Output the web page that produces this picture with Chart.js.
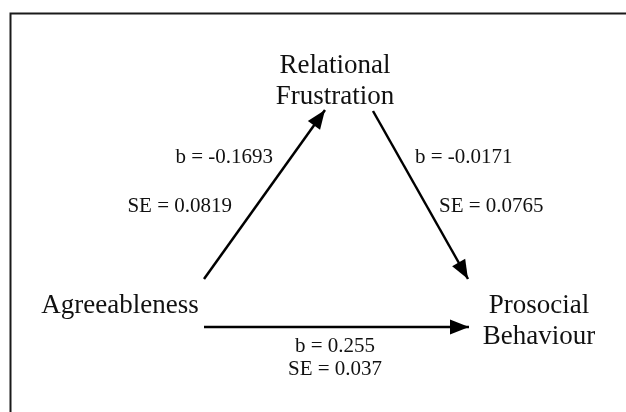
<!DOCTYPE html>
<html>
<head>
<meta charset="utf-8">
<script src="https://cdn.jsdelivr.net/npm/chart.js@4"></script>
<style>
  body { margin: 0; background: #fff; }
  #wrap { width: 626px; height: 412px; }
</style>
</head>
<body>
<div id="wrap"><canvas id="Chart" width="626" height="412"></canvas></div>
<script>
// nodes of the path model (centre x, first baseline y in diagram units)
let nodeLines = [['Relational', 'Frustration'], ['Agreeableness'], ['Prosocial', 'Behaviour']];
let nodeX = [335, 120, 539];
let nodeY = [73, 313, 313];

// paths: a -> frustration, frustration -> prosocial, a -> prosocial
let pathB = ['-0.1693', '-0.0171', '0.255'];
let pathSE = ['0.0819', '0.0765', '0.037'];
let arrowFromX = [204, 373, 204];
let arrowFromY = [279, 111, 327];
let arrowToX = [325, 468, 469];
let arrowToY = [110, 279, 327];

let datasets = [];
for (let i in pathB) {
    datasets.push({
        label: 'b = ' + pathB[i],
        data: [{ x: arrowFromX[i], y: arrowFromY[i] }, { x: arrowToX[i], y: arrowToY[i] }],
        showLine: true,
        borderColor: '#000000',
        borderWidth: 2.5,
        pointRadius: 0,
        borderCapStyle: 'butt'
    });
}

const serif = '"Liberation Serif", "Times New Roman", serif';

let diagramPlugin = {
    id: 'diagram',
    beforeDraw(chart) {
        let ctx = chart.ctx;
        ctx.save();
        ctx.fillStyle = '#ffffff';
        ctx.fillRect(0, 0, chart.width, chart.height);
        // frame
        ctx.strokeStyle = '#1a1a1a';
        ctx.lineWidth = 2;
        ctx.strokeRect(10.5, 13.5, 800, 600);
        ctx.restore();
    },
    afterDatasetsDraw(chart) {
        let ctx = chart.ctx;
        let xs = chart.scales.x, ys = chart.scales.y;
        ctx.save();
        // arrow heads
        ctx.fillStyle = '#000000';
        for (let i in pathB) {
            let x1 = xs.getPixelForValue(arrowFromX[i]), y1 = ys.getPixelForValue(arrowFromY[i]);
            let x2 = xs.getPixelForValue(arrowToX[i]), y2 = ys.getPixelForValue(arrowToY[i]);
            let a = Math.atan2(y2 - y1, x2 - x1);
            let len = 19, half = 7.5;
            ctx.beginPath();
            ctx.moveTo(x2, y2);
            ctx.lineTo(x2 - len * Math.cos(a) + half * Math.sin(a), y2 - len * Math.sin(a) - half * Math.cos(a));
            ctx.lineTo(x2 - len * Math.cos(a) - half * Math.sin(a), y2 - len * Math.sin(a) + half * Math.cos(a));
            ctx.closePath();
            ctx.fill();
        }
        // node names
        ctx.fillStyle = '#111111';
        ctx.textAlign = 'center';
        ctx.textBaseline = 'alphabetic';
        ctx.font = '27px ' + serif;
        for (let i in nodeLines) {
            nodeLines[i].forEach(function(line, k) {
                ctx.fillText(line, xs.getPixelForValue(nodeX[i]), ys.getPixelForValue(nodeY[i] + k * 30.5));
            });
        }
        // coefficients
        ctx.font = '21px ' + serif;
        ctx.textAlign = 'right';
        ctx.fillText('b = ' + pathB[0], xs.getPixelForValue(273), ys.getPixelForValue(163));
        ctx.fillText('SE = ' + pathSE[0], xs.getPixelForValue(232), ys.getPixelForValue(212));
        ctx.textAlign = 'left';
        ctx.fillText('b = ' + pathB[1], xs.getPixelForValue(415), ys.getPixelForValue(163));
        ctx.fillText('SE = ' + pathSE[1], xs.getPixelForValue(439), ys.getPixelForValue(212));
        ctx.textAlign = 'center';
        ctx.fillText('b = ' + pathB[2], xs.getPixelForValue(335), ys.getPixelForValue(352));
        ctx.fillText('SE = ' + pathSE[2], xs.getPixelForValue(335), ys.getPixelForValue(375));
        ctx.restore();
    }
};

new Chart(document.getElementById('Chart'), {
    type: 'scatter',
    data: { datasets: datasets },
    options: {
        responsive: false,
        animation: false,
        layout: { padding: 0 },
        plugins: { legend: { display: false }, tooltip: { enabled: false } },
        scales: {
            x: { type: 'linear', min: 0, max: 626, display: false },
            y: { type: 'linear', min: 0, max: 412, reverse: true, display: false }
        }
    },
    plugins: [diagramPlugin]
});
</script>
</body>
</html>
